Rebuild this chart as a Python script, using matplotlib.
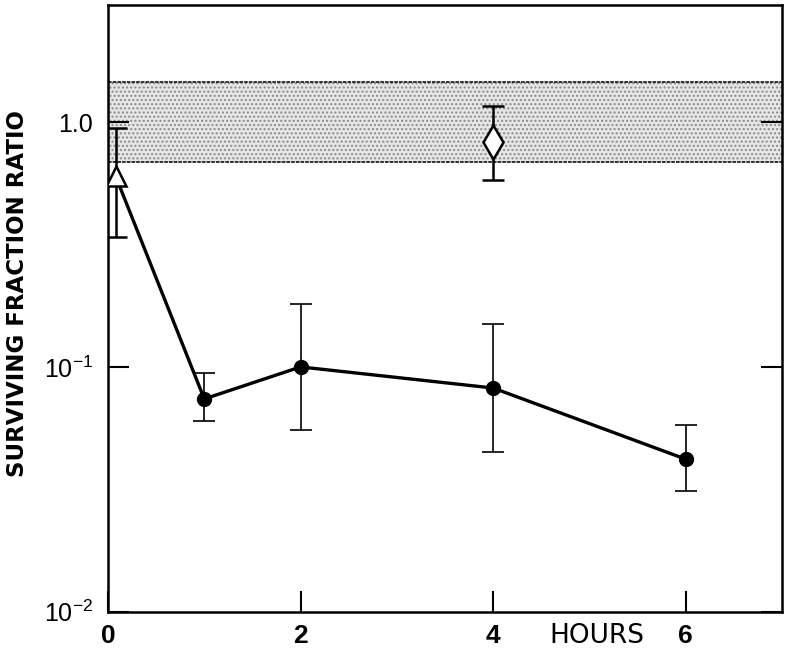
import matplotlib
matplotlib.use("Agg")
import matplotlib.pyplot as plt

plt.rcParams['font.family'] = ['Liberation Sans', 'DejaVu Sans']
plt.rcParams['mathtext.fontset'] = 'custom'
plt.rcParams['mathtext.rm'] = 'Liberation Sans'
plt.rcParams['mathtext.default'] = 'rm'
plt.rcParams['hatch.color'] = '#8a8a8a'
plt.rcParams['hatch.linewidth'] = 1.0

# main series (filled circles)
hours = [1, 2, 4, 6]
ratio = [0.074, 0.10, 0.082, 0.042]
err_lo = [0.060, 0.055, 0.045, 0.031]
err_hi = [0.094, 0.18, 0.15, 0.058]

# open triangle at start
tri_x = 0.08
tri_y = 0.60
tri_lo = 0.34
tri_hi = 0.95

# open diamond
dia_x = 4
dia_y = 0.83
dia_lo = 0.58
dia_hi = 1.16

# shaded control band
band_lo = 0.69
band_hi = 1.46

fig = plt.figure(figsize=(8, 6.55), dpi=100)
ax = fig.add_axes([0.135, 0.066, 0.8425, 0.926])

ax.axhspan(band_lo, band_hi, facecolor='#e6e6e6', hatch='....', edgecolor='#8a8a8a', linewidth=0, zorder=0)
ax.axhline(band_lo, color='#222222', lw=1.3, ls=(0, (2, 0.6)), zorder=1)
ax.axhline(band_hi, color='#222222', lw=1.3, ls=(0, (2, 0.6)), zorder=1)

# connecting line
ax.plot([tri_x] + hours, [tri_y] + ratio, color='black', lw=2.4, zorder=3)

ax.errorbar(hours, ratio,
            yerr=[[r - l for r, l in zip(ratio, err_lo)], [h - r for r, h in zip(ratio, err_hi)]],
            fmt='o', color='black', ms=10, ecolor='black', elinewidth=1.2, capsize=8, capthick=1.2, zorder=4)

ax.errorbar([tri_x], [tri_y], yerr=[[tri_y - tri_lo], [tri_hi - tri_y]],
            fmt='^', mfc='white', mec='black', mew=1.8, ms=15, ecolor='black',
            elinewidth=1.8, capsize=8, capthick=2, zorder=5)

ax.errorbar([dia_x], [dia_y], yerr=[[dia_y - dia_lo], [dia_hi - dia_y]],
            fmt='d', mfc='white', mec='black', mew=1.8, ms=17, ecolor='black',
            elinewidth=1.8, capsize=8, capthick=2, zorder=5)

ax.set_yscale('log')
ax.set_ylim(0.01, 3.0)
ax.set_xlim(0, 7)

ax.set_yticks([0.01, 0.1, 1.0])
ax.set_yticklabels(['10$^{-2}$', '10$^{-1}$', '1.0'], fontsize=18)
ax.yaxis.set_minor_locator(matplotlib.ticker.NullLocator())
ax.set_xticks([0, 2, 4, 6])
ax.set_xticklabels(['0', '2', '4', '6'], fontsize=19, fontweight='bold')
ax.tick_params(axis='both', direction='in', length=15, width=1.5)
ax.tick_params(axis='x', pad=9)
ax.tick_params(axis='y', right=True, pad=11)

for s in ax.spines.values():
    s.set_linewidth(1.8)

fig.text(18 / 800, 1 - 294 / 655, 'SURVIVING FRACTION RATIO', fontsize=16.5, fontweight='bold',
         rotation=90, ha='center', va='center', family=['DejaVu Sans'])
fig.text(597 / 800, 1 - 636 / 655, 'HOURS', fontsize=19, ha='center', va='center',
         family=['Liberation Sans Narrow', 'DejaVu Sans'])

fig.savefig('out.png', dpi=100)
